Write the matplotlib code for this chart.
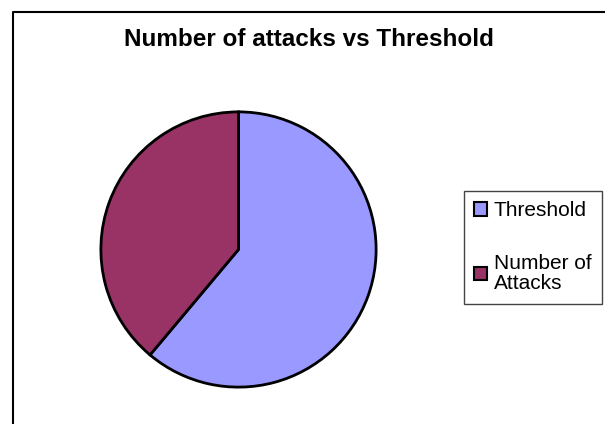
import matplotlib
matplotlib.use("Agg")
import matplotlib.pyplot as plt
from matplotlib.patches import Patch
from matplotlib.lines import Line2D

labels = ["Threshold", "Number of\nAttacks"]
values = [11, 7]
colors = ["#9999FF", "#993366"]

W, H = 605, 424
plt.rcParams["font.family"] = ["Liberation Sans", "DejaVu Sans"]


def fx(px):
    return px / W


def fy(py):
    return 1 - py / H


def main():
    fig = plt.figure(figsize=(W / 100, H / 100), dpi=100)
    fig.patch.set_facecolor("white")

    # chart frame (right and bottom edges fall outside the picture)
    fig.add_artist(Line2D([fx(12.5), fx(12.5), fx(W + 5)],
                          [fy(H + 5), fy(11.5), fy(11.5)],
                          color="black", lw=1.5, transform=fig.transFigure))

    fig.text(fx(309), fy(39), "Number of attacks vs Threshold",
             ha="center", va="center", fontsize=17.5, fontweight="bold")

    # pie
    cx, cy, r = 238.5, 249.5, 139
    ax = fig.add_axes([fx(cx - r), fy(cy + r), 2 * r / W, 2 * r / H])
    ax.pie(values, colors=colors, startangle=90, counterclock=False,
           radius=1, wedgeprops=dict(edgecolor="black", linewidth=2))
    ax.set_xlim(-1.01, 1.01)
    ax.set_ylim(-1.01, 1.01)
    ax.set_aspect("auto")
    ax.axis("off")

    handles = [Patch(facecolor=c, edgecolor="black", linewidth=1.5)
               for c in colors]
    leg = fig.legend(handles, labels, loc="upper left",
                     bbox_to_anchor=(fx(464), fy(191)),
                     fontsize=15, frameon=True, fancybox=False,
                     edgecolor="#444444", framealpha=1,
                     handlelength=0.62, handleheight=0.62,
                     handletextpad=0.3, labelspacing=1.6,
                     borderpad=0.5, borderaxespad=0)
    leg.get_frame().set_linewidth(1.0)
    for t in leg.get_texts():
        t.set_linespacing(1.1)

    fig.savefig("out.png", dpi=100)


if __name__ == "__main__":
    main()
